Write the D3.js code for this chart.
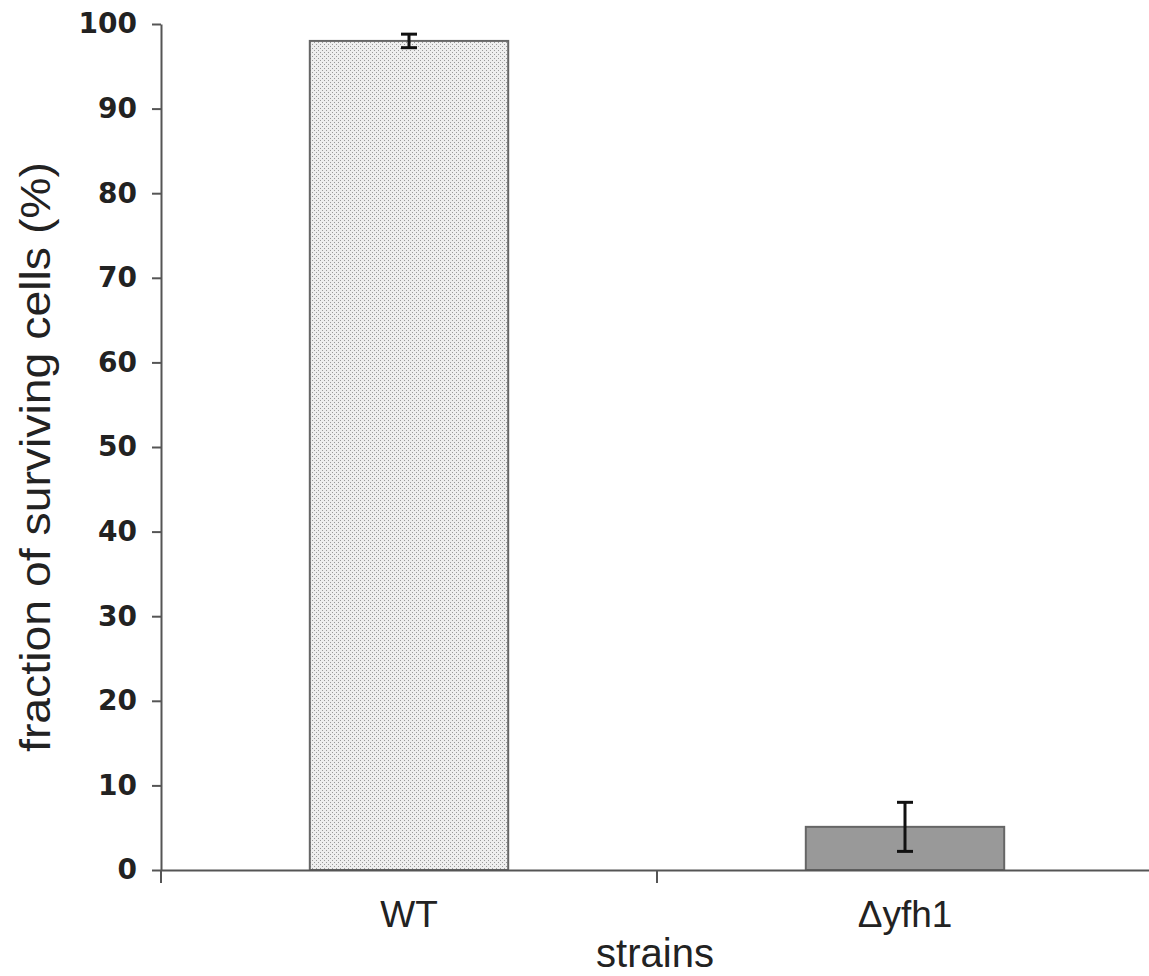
<!DOCTYPE html>
<html>
<head>
<meta charset="utf-8">
<script src="https://cdn.jsdelivr.net/npm/d3@7"></script>
<style>
  body { margin: 0; background: #fff; }
</style>
</head>
<body>
<div id="chart"></div>
<script>
// datos
var strains = ['WT', '\u0394yfh1'];
var survival = [98.0, 5.1];
var errores = [0.8, 2.9];
var y_ticks = [0, 10, 20, 30, 40, 50, 60, 70, 80, 90, 100];

var width = 1149, height = 976;
var x0 = 161, x1 = 1153;     // eje X
var y0 = 870, y1 = 24;       // 0 y 100

var svg = d3.select('#chart').append('svg')
    .attr('width', width)
    .attr('height', height);

// patron punteado para WT
var defs = svg.append('defs');
var pat = defs.append('pattern')
    .attr('id', 'puntos')
    .attr('width', 4).attr('height', 4)
    .attr('patternUnits', 'userSpaceOnUse');
pat.append('rect').attr('width', 4).attr('height', 4).attr('fill', '#eeeeee');
pat.append('rect').attr('x', 0).attr('y', 0).attr('width', 1).attr('height', 1).attr('fill', '#999');
pat.append('rect').attr('x', 2).attr('y', 2).attr('width', 1).attr('height', 1).attr('fill', '#999');

var scale_x = d3.scaleBand()
    .domain(strains)
    .range([x0, x1])
    .padding(0);

var scale_y = d3.scaleLinear()
    .domain([0, 100])
    .range([y0, y1]);

var barW = scale_x.bandwidth() * 0.4;
var fills = ['url(#puntos)', '#999999'];

// barras
svg.selectAll('.bar')
    .data(strains)
    .enter().append('rect')
    .attr('class', 'bar')
    .attr('x', function (d) { return scale_x(d) + scale_x.bandwidth() / 2 - barW / 2; })
    .attr('y', function (d, i) { return scale_y(survival[i]); })
    .attr('width', barW)
    .attr('height', function (d, i) { return y0 - scale_y(survival[i]); })
    .attr('fill', function (d, i) { return fills[i]; })
    .attr('stroke', '#666')
    .attr('stroke-width', 2);

// barras de error
var eb = svg.selectAll('.err')
    .data(strains)
    .enter().append('g')
    .attr('class', 'err')
    .attr('stroke', '#111')
    .attr('stroke-width', 3);
eb.append('line')
    .attr('x1', function (d) { return scale_x(d) + scale_x.bandwidth() / 2; })
    .attr('x2', function (d) { return scale_x(d) + scale_x.bandwidth() / 2; })
    .attr('y1', function (d, i) { return scale_y(survival[i] + errores[i]); })
    .attr('y2', function (d, i) { return scale_y(survival[i] - errores[i]); });
[1, -1].forEach(function (s) {
    eb.append('line')
        .attr('x1', function (d) { return scale_x(d) + scale_x.bandwidth() / 2 - 8; })
        .attr('x2', function (d) { return scale_x(d) + scale_x.bandwidth() / 2 + 8; })
        .attr('y1', function (d, i) { return scale_y(survival[i] + s * errores[i]); })
        .attr('y2', function (d, i) { return scale_y(survival[i] + s * errores[i]); });
});

// eje Y
var gy = svg.append('g')
    .attr('transform', 'translate(' + x0 + ',0)')
    .call(d3.axisLeft(scale_y).tickValues(y_ticks).tickSize(9).tickPadding(15).tickSizeOuter(0));
gy.select('.domain').attr('stroke', '#555').attr('stroke-width', 2);
gy.selectAll('.tick line').attr('stroke', '#555').attr('stroke-width', 2);
gy.selectAll('.tick text')
    .attr('font-family', 'DejaVu Sans, Verdana, sans-serif')
    .attr('font-weight', 'bold')
    .attr('font-size', 28)
    .attr('fill', '#222');
// prolongacion del eje Y bajo el cero
svg.append('line')
    .attr('x1', x0).attr('x2', x0)
    .attr('y1', y0).attr('y2', y0 + 13)
    .attr('stroke', '#555').attr('stroke-width', 2);

// eje X
var gx = svg.append('g')
    .attr('transform', 'translate(0,' + y0 + ')')
    .call(d3.axisBottom(scale_x).tickSize(0).tickPadding(31).tickSizeOuter(0));
gx.select('.domain').attr('stroke', '#555').attr('stroke-width', 2);
gx.selectAll('.tick text')
    .attr('font-family', 'Liberation Sans, Arial, sans-serif')
    .attr('font-size', 37)
    .attr('fill', '#222');
// separador entre categorias
svg.selectAll('.sep')
    .data(strains.slice(1))
    .enter().append('line')
    .attr('x1', function (d) { return scale_x(d); })
    .attr('x2', function (d) { return scale_x(d); })
    .attr('y1', y0).attr('y2', y0 + 13)
    .attr('stroke', '#555').attr('stroke-width', 2);

// titulos
svg.append('text')
    .attr('x', 655).attr('y', 967)
    .attr('text-anchor', 'middle')
    .attr('font-family', 'Liberation Sans, Arial, sans-serif')
    .attr('font-size', 40)
    .attr('fill', '#222')
    .text('strains');

svg.append('text')
    .attr('transform', 'translate(50,457) rotate(-90)')
    .attr('text-anchor', 'middle')
    .attr('font-family', 'Liberation Sans, Arial, sans-serif')
    .attr('font-size', 42)
    .attr('textLength', 590)
    .attr('lengthAdjust', 'spacingAndGlyphs')
    .attr('fill', '#222')
    .text('fraction of surviving cells (%)');
</script>
</body>
</html>
